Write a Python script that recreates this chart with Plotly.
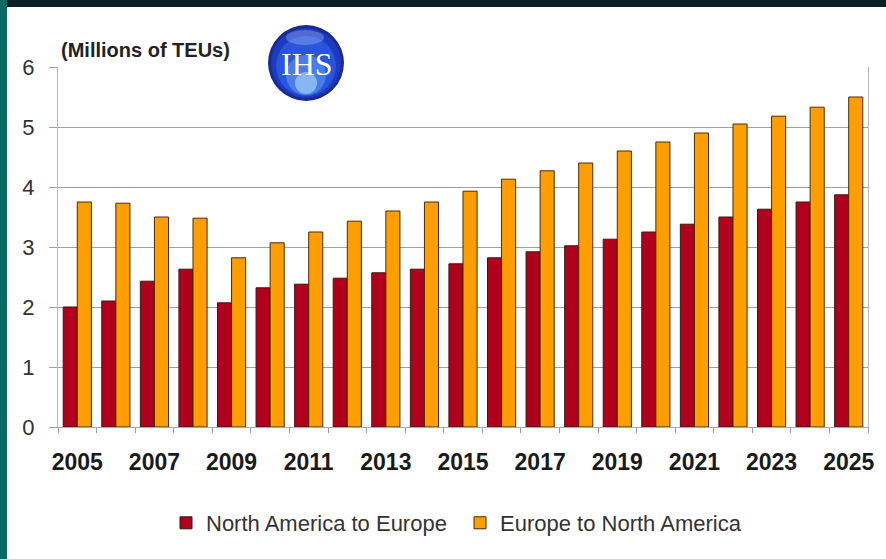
import plotly.graph_objects as go

years = list(range(2005, 2026))
na_to_eu = [2.0, 2.1, 2.43, 2.63, 2.07, 2.32, 2.38, 2.48, 2.57, 2.63, 2.72,
            2.82, 2.92, 3.02, 3.13, 3.25, 3.38, 3.5, 3.63, 3.75, 3.87]
eu_to_na = [3.75, 3.73, 3.5, 3.48, 2.82, 3.07, 3.25, 3.43, 3.6, 3.75, 3.93,
            4.13, 4.27, 4.4, 4.6, 4.75, 4.9, 5.05, 5.18, 5.33, 5.5]
tick_years = list(range(2005, 2026, 2))

# plot area in pixels (used to place the decorations)
L, R, T, B = 58, 868, 67, 427
W, H = 886, 559


def px(x):
    return (x - L) / (R - L)


def py(y):
    return (B - y) / (B - T)


fig = go.Figure()
fig.add_trace(go.Bar(x=years, y=na_to_eu, name="North America to Europe",
                     marker=dict(color="#b0001e", line=dict(color="#3a1a10", width=1))))
fig.add_trace(go.Bar(x=years, y=eu_to_na, name="Europe to North America",
                     marker=dict(color="#ff9e00", line=dict(color="#4a2a08", width=1))))

shapes = [
    # dark frame bands
    dict(type="rect", xref="paper", yref="paper", x0=px(0), x1=px(W), y0=py(7), y1=py(0),
         fillcolor="#0a2024", line_width=0, layer="above"),
    dict(type="rect", xref="paper", yref="paper", x0=px(0), x1=px(7), y0=py(W), y1=py(0),
         fillcolor="#0b6b63", line_width=0, layer="above"),
    # white gap in the top gridline behind the logo
    dict(type="rect", xref="paper", yref="paper", x0=px(256), x1=px(360), y0=py(75), y1=py(58),
         fillcolor="white", line_width=0, layer="above"),
]
cx, cy = 306, 63
for r, col, dy in [(38, "#0f1f8c", 0), (35, "#1d3cc4", 0), (30, "#2a55dc", 3),
                   (20, "#4a80ec", 12), (11, "#8cb8f6", 20)]:
    shapes.append(dict(type="circle", xref="paper", yref="paper",
                       x0=px(cx - r), x1=px(cx + r), y0=py(cy + dy + r), y1=py(cy + dy - r),
                       fillcolor=col, line_width=0, layer="above", opacity=0.95))
shapes.append(dict(type="circle", xref="paper", yref="paper",
                   x0=px(cx - 20), x1=px(cx + 18), y0=py(cy - 18), y1=py(cy - 33),
                   fillcolor="#c8dcff", line_width=0, layer="above", opacity=0.3))

fig.update_layout(
    width=W, height=H,
    margin=dict(l=L, r=W - R, t=T, b=H - B),
    paper_bgcolor="white", plot_bgcolor="white",
    barmode="group", bargap=0.27, bargroupgap=0,
    font=dict(family="Liberation Sans, Arial", color="#333333"),
    shapes=shapes,
    showlegend=True,
    legend=dict(orientation="h", x=px(166), xanchor="left", y=py(523), yanchor="middle",
                font=dict(size=22, color="#333333"), entrywidth=249,
                traceorder="normal"),
    annotations=[
        dict(text="<b>(Millions of TEUs)</b>", xref="paper", yref="paper",
             x=px(59), y=py(50), xanchor="left", yanchor="middle", showarrow=False,
             font=dict(size=20, color="#222222")),
        dict(text="IHS", xref="paper", yref="paper", x=px(cx + 1), y=py(cy + 1),
             xanchor="center", yanchor="middle", showarrow=False,
             font=dict(family="Liberation Serif, DejaVu Serif", size=32, color="white")),
    ],
)
fig.update_xaxes(range=[2004.5, 2025.5], tickmode="array", tickvals=tick_years,
                 ticktext=[f"<b>{y}</b>" for y in tick_years],
                 tickfont=dict(family="Liberation Sans", size=23, color="#1a1a1a"),
                 ticks="", ticklabelstandoff=14,
                 showline=True, linecolor="#aaaaaa", linewidth=1, showgrid=False,
                 minor=dict(ticks="outside", tick0=2004.5, dtick=1, ticklen=5,
                            tickcolor="#8aa0b0", showgrid=False))
fig.update_yaxes(range=[0, 6], dtick=1, tickfont=dict(size=22, color="#333333"),
                 showgrid=True, gridcolor="#a0a0a0", gridwidth=1,
                 ticks="outside", ticklen=8, tickcolor="#a0a0a0", ticklabelstandoff=10,
                 showline=True, linecolor="#b8b8b8", mirror=True, zeroline=False)

fig.write_html("out.html", config={"displayModeBar": False},
               post_script="document.body.style.margin='0';")
